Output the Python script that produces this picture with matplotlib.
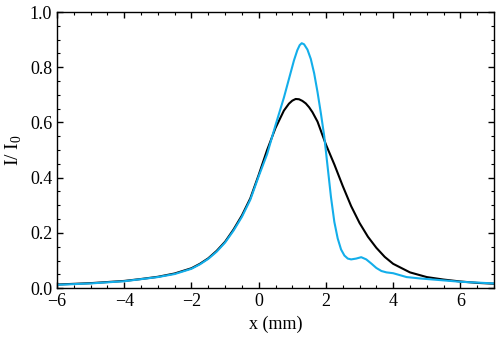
import numpy as np
import matplotlib
matplotlib.use('Agg')
import matplotlib.pyplot as plt
from matplotlib.ticker import MultipleLocator

plt.rcParams['font.family'] = ['Liberation Serif', 'DejaVu Serif']
plt.rcParams['mathtext.fontset'] = 'custom'
plt.rcParams['mathtext.rm'] = 'Liberation Serif'

# black curve
x_black = [-6, -5, -4, -3.5, -3, -2.5, -2, -1.75, -1.5, -1.25, -1, -0.75, -0.5,
           -0.25, 0, 0.25, 0.5, 0.75, 0.9, 1.0, 1.1, 1.2, 1.3, 1.4, 1.5, 1.6,
           1.75, 2.0, 2.25, 2.5, 2.75, 3.0, 3.25, 3.5, 3.75, 4.0, 4.5, 5.0, 5.5,
           6.0, 6.5, 7.0]
y_black = [0.013, 0.018, 0.026, 0.033, 0.041, 0.053, 0.072, 0.088, 0.108, 0.135,
           0.168, 0.212, 0.263, 0.325, 0.41, 0.50, 0.58, 0.643, 0.668, 0.679,
           0.685, 0.684, 0.678, 0.669, 0.655, 0.637, 0.603, 0.52, 0.448, 0.37,
           0.297, 0.236, 0.186, 0.146, 0.113, 0.088, 0.057, 0.040, 0.031,
           0.024, 0.019, 0.016]

# blue curve
x_blue = [-6, -5, -4, -3, -2.5, -2, -1.75, -1.5, -1.25, -1, -0.75, -0.5, -0.25,
          0, 0.25, 0.5, 0.75, 0.85, 0.95, 1.05, 1.15, 1.22, 1.28, 1.35, 1.45,
          1.55, 1.65, 1.75, 1.85, 1.95, 2.05, 2.15, 2.25, 2.35, 2.45, 2.55,
          2.65, 2.75, 2.9, 3.05, 3.2, 3.35, 3.5, 3.65, 3.8, 4.0, 4.2, 4.4, 4.8,
          5.4, 6.0, 7.0]
y_blue = [0.012, 0.017, 0.025, 0.040, 0.051, 0.070, 0.086, 0.106, 0.132, 0.165,
          0.208, 0.258, 0.320, 0.405, 0.485, 0.59, 0.69, 0.735, 0.78, 0.825,
          0.862, 0.880, 0.887, 0.883, 0.864, 0.830, 0.778, 0.71, 0.633, 0.55,
          0.44, 0.33, 0.24, 0.18, 0.14, 0.118, 0.107, 0.104, 0.107, 0.112,
          0.104, 0.089, 0.073, 0.062, 0.057, 0.054, 0.047, 0.040, 0.035, 0.029,
          0.023, 0.017]

fig = plt.figure(figsize=(5, 3.43), dpi=100)
ax = fig.add_axes([0.114, 0.160, 0.874, 0.805])

ax.plot(x_black, y_black, color='black', lw=1.5)
ax.plot(x_blue, y_blue, color='#13AEEA', lw=1.5)

ax.set_xlim(-6, 7)
ax.set_ylim(0, 1.0)
ax.xaxis.set_major_locator(MultipleLocator(2))
ax.xaxis.set_minor_locator(MultipleLocator(0.5))
ax.yaxis.set_major_locator(MultipleLocator(0.2))
ax.yaxis.set_minor_locator(MultipleLocator(0.05))
ax.yaxis.set_major_formatter(matplotlib.ticker.FormatStrFormatter('%.1f'))
ax.tick_params(which='both', direction='in', top=True, right=True, labelsize=13)
ax.tick_params(which='major', length=4.5, width=1)
ax.tick_params(which='minor', length=2.5, width=0.8)
for s in ax.spines.values():
    s.set_linewidth(1.0)

ax.set_xlabel('x (mm)', fontsize=13)
ax.set_ylabel(r'I/ I$_\mathrm{0}$', fontsize=14)

fig.savefig('out.png', dpi=100)
